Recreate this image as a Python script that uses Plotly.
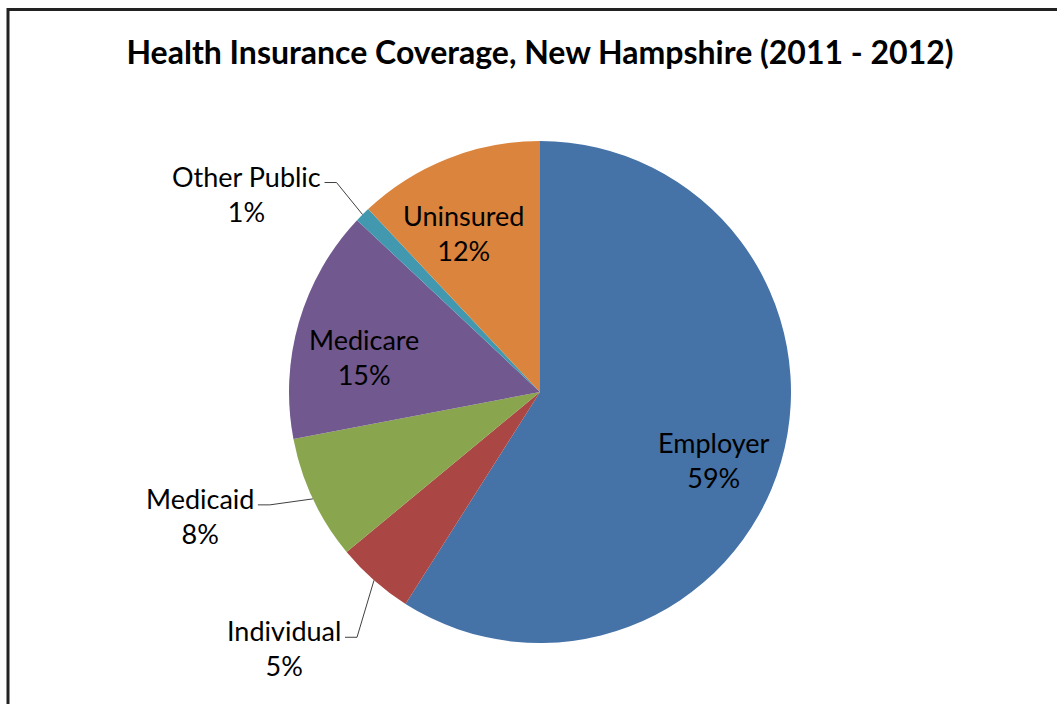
import math
import plotly.graph_objects as go

# ---- data ----
categories = ["Employer", "Individual", "Medicaid", "Medicare", "Other Public", "Uninsured"]
shares = [59, 5, 8, 15, 1, 12]
colors = ["#4572A7", "#AA4643", "#89A54E", "#71588F", "#4198AF", "#DB843D"]
title_text = "Health Insurance Coverage, New Hampshire (2011 - 2012)"

# ---- layout constants ----
W, H = 1057, 704
CX, CY, R = 540, 392, 251
FONT = "Lato"
LABEL_SIZE = 27
inside_labels = {"Employer", "Medicare", "Uninsured"}
# small nudges (px) for inside labels
inside_nudge = {"Employer": (0, 3), "Medicare": (-2, 0), "Uninsured": (-10, -6)}
# leader end offsets (px) from arc anchor for outside labels
leader_end_offset = {"Other Public": (-38, -32), "Medicaid": (-55, 6), "Individual": (-29, 57)}


def px(x):
    return x / W


def py(y):
    return 1 - y / H


fig = go.Figure(go.Pie(
    labels=categories,
    values=shares,
    sort=False,
    direction="clockwise",
    rotation=0,
    marker=dict(colors=colors, line=dict(width=0)),
    textinfo="none",
    hoverinfo="label+percent",
    showlegend=False,
    domain=dict(x=[px(CX - R), px(CX + R)], y=[py(CY + R), py(CY - R)]),
))

total = sum(shares)
annotations = []
shapes = []
cum = 0
for name, v in zip(categories, shares):
    mid = (cum + v / 2) / total * 2 * math.pi
    cum += v
    pct = f"{round(v / total * 100)}%"
    dx, dy = math.sin(mid), -math.cos(mid)
    text = f"{name}<br>{pct}"
    if name in inside_labels:
        nx, ny = inside_nudge.get(name, (0, 0))
        lx = CX + 0.72 * R * dx + nx
        ly = CY + 0.72 * R * dy + 15 + ny
        annotations.append(dict(x=px(lx), y=py(ly), xref="paper", yref="paper", text=text,
                                showarrow=False, align="center", xanchor="center", yanchor="middle",
                                font=dict(family=FONT, size=LABEL_SIZE, color="#000")))
    else:
        ax, ay = CX + R * dx, CY + R * dy
        ox, oy = leader_end_offset[name]
        ex, ey = ax + ox, ay + oy
        elx = ex + 12
        shapes.append(dict(type="path", xref="paper", yref="paper",
                           path=f"M {px(ax)},{py(ay)} L {px(elx)},{py(ey)} L {px(ex)},{py(ey)}",
                           line=dict(color="#404040", width=1)))
        annotations.append(dict(x=px(ex - 2), y=py(ey - 7 + 18), xref="paper", yref="paper", text=text,
                                showarrow=False, align="center", xanchor="right", yanchor="middle",
                                font=dict(family=FONT, size=LABEL_SIZE, color="#000")))

# chart border (top & left visible)
shapes.append(dict(type="rect", xref="paper", yref="paper",
                   x0=px(8), x1=1.05, y0=-0.05, y1=py(9.5),
                   line=dict(color="#222", width=3), fillcolor="rgba(0,0,0,0)", layer="above"))

fig.update_layout(
    width=W, height=H,
    margin=dict(l=0, r=0, t=0, b=0),
    paper_bgcolor="white", plot_bgcolor="white",
    title=dict(text=f"<b>{title_text}</b>", x=px(540), y=py(53), xanchor="center", yanchor="middle",
               font=dict(family=FONT, size=32, color="#000")),
    annotations=annotations,
    shapes=shapes,
)

fig.write_html("out.html")
